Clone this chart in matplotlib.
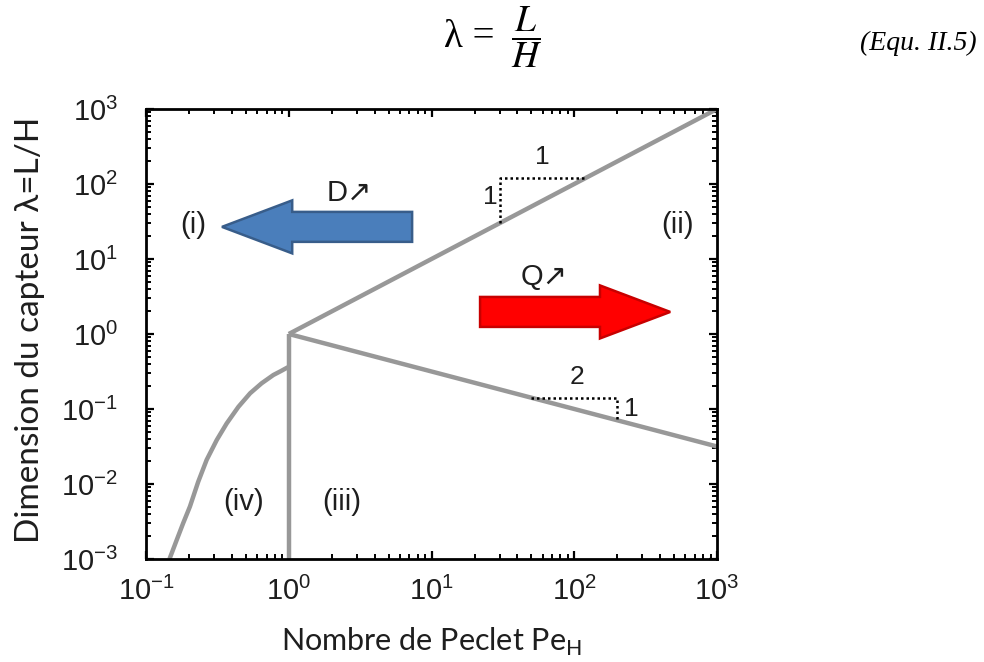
import matplotlib
matplotlib.use("Agg")
import matplotlib.pyplot as plt
from matplotlib.patches import Polygon
from matplotlib.ticker import LogLocator, NullFormatter

# Frontières entre régimes (Pe_H, lambda)
pe_haut = [1, 1000]          # (i)/(ii) : lambda ~ Pe
lam_haut = [1, 1000]
pe_bas = [1, 1000]           # (ii)/(iii) : lambda ~ Pe^-1/2
lam_bas = [1, 0.0316]
pe_vert = [1, 1]             # (iii)/(iv) : Pe = 1
lam_vert = [0.001, 1]
pe_courbe = [0.146, 0.164, 0.182, 0.203, 0.232, 0.266, 0.313, 0.367, 0.444,
             0.536, 0.645, 0.78, 0.88, 0.985]
lam_courbe = [0.001, 0.00179, 0.0030, 0.0050, 0.0107, 0.021, 0.0386, 0.064, 0.107,
              0.162, 0.220, 0.284, 0.320, 0.36]

# Triangles de pente
tri1_pe = [30, 30, 120]
tri1_lam = [30, 120, 120]
tri2_pe = [50, 200, 200]
tri2_lam = [0.141, 0.141, 0.0707]

GRIS = "#989898"
NOIR = "#1e1e1e"
POLICE_TICKS = ["Liberation Sans", "DejaVu Sans"]

fig = plt.figure(figsize=(9.84, 6.62), dpi=100)
ax = fig.add_axes([0.1484, 0.1556, 0.5803, 0.6798])

for xs, ys in [(pe_haut, lam_haut), (pe_bas, lam_bas), (pe_vert, lam_vert)]:
    ax.plot(xs, ys, color=GRIS, lw=3.2, solid_capstyle="butt", solid_joinstyle="miter")
ax.plot(pe_courbe, lam_courbe, color=GRIS, lw=3.2, solid_capstyle="butt",
        solid_joinstyle="round")

ax.plot(tri1_pe, tri1_lam, color="black", ls=(0, (1, 1.2)), lw=1.8)
ax.plot(tri2_pe, tri2_lam, color="black", ls=(0, (1, 1.2)), lw=1.8)

ax.set_xscale("log")
ax.set_yscale("log")
ax.set_xlim(0.1, 1000)
ax.set_ylim(0.001, 1000)

for axis in (ax.xaxis, ax.yaxis):
    axis.set_major_locator(LogLocator(base=10, numticks=10))
    axis.set_minor_locator(LogLocator(base=10, subs=range(2, 10), numticks=10))
    axis.set_minor_formatter(NullFormatter())
ax.tick_params(which="both", direction="in", top=True, right=True, colors="black")
ax.tick_params(which="major", length=6, width=1.6, labelsize=21)
ax.tick_params(axis="x", which="major", pad=13)
ax.tick_params(axis="y", which="major", pad=20)
ax.tick_params(which="minor", length=3.5, width=1.4)
for lab in ax.get_xticklabels() + ax.get_yticklabels():
    lab.set_family(POLICE_TICKS)
    lab.set_color(NOIR)
for sp in ax.spines.values():
    sp.set_linewidth(2.0)

# Labels des régimes
txt = dict(transform=ax.transAxes, ha="center", va="center", fontsize=21,
           family=POLICE_TICKS, color=NOIR)
ax.text(0.082, 0.742, "(i)", **txt)
ax.text(0.930, 0.742, "(ii)", **txt)
ax.text(0.343, 0.127, "(iii)", **txt)
ax.text(0.170, 0.127, "(iv)", **txt)
ax.text(0.356, 0.813, "D\u2197", **txt)
ax.text(0.697, 0.627, "Q\u2197", **txt)

# Pentes
pente = dict(ha="center", va="center", fontsize=19, family=POLICE_TICKS, color=NOIR)
ax.text(60, 230, "1", **pente)
ax.text(26, 67, "1", **pente)
ax.text(105, 0.27, "2", **pente)
ax.text(250, 0.10, "1", **pente)


def fleche(x_queue, x_pointe, x_base, y, demi_corps, demi_tete, **kw):
    pts = [(x_queue, y - demi_corps), (x_base, y - demi_corps), (x_base, y - demi_tete),
           (x_pointe, y), (x_base, y + demi_tete), (x_base, y + demi_corps),
           (x_queue, y + demi_corps)]
    ax.add_patch(Polygon(pts, closed=True, transform=ax.transAxes, **kw))


fleche(0.466, 0.133, 0.256, 0.738, 0.0333, 0.0589,
       facecolor="#4a7ebb", edgecolor="#385d8a", lw=1.8, zorder=3)
fleche(0.585, 0.918, 0.795, 0.549, 0.0333, 0.0589,
       facecolor="#ff0000", edgecolor="#c80000", lw=1.8, zorder=3)

# Titres des axes
fig.text(0.0305, 0.5015, "Dimension du capteur \u03bb=L/H", rotation=90,
         ha="center", va="center", fontsize=24, family="Lato", color=NOIR)
fig.text(0.4385, 0.030, r"Nombre de Peclet Pe$_{\mathregular{H}}$",
         ha="center", va="center", fontsize=22, family="Lato", color=NOIR)

# Équation en tête
fig.text(0.451, 0.944, "\u03bb =", ha="left", va="center", fontsize=28,
         family="Liberation Serif")
fig.text(0.535, 0.944, r"$\dfrac{L}{H}$", ha="center", va="center", fontsize=27,
         math_fontfamily="stix")
fig.text(0.993, 0.935, "(Equ. II.5)", ha="right", va="center", fontsize=20,
         family="Liberation Serif", style="italic")

fig.savefig("out.png", dpi=100)
